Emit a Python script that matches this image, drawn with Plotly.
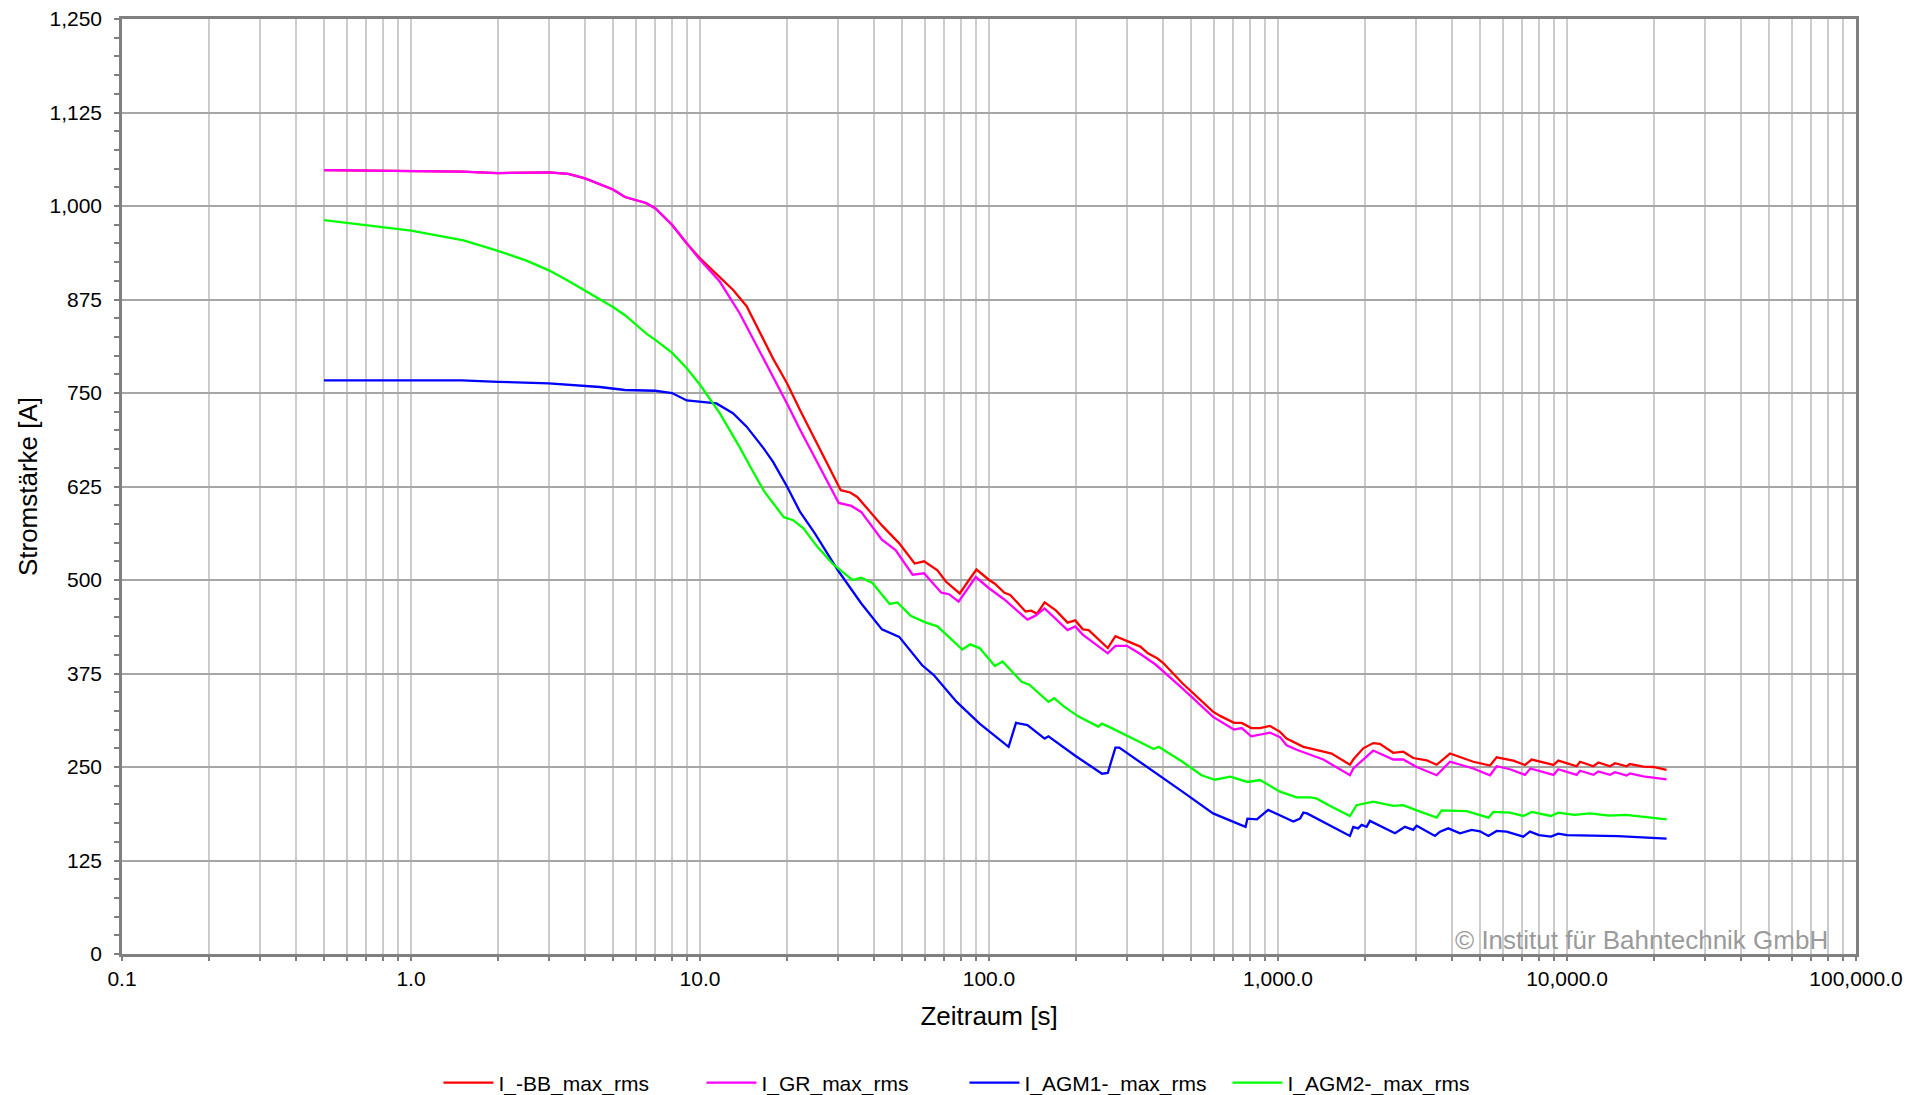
import plotly.graph_objects as go

# ---------------- data ----------------
t_bb = [0.5, 1.0, 1.5, 2.0, 3.0, 3.5, 4.0, 5.0, 5.5, 6.5, 7.0, 8.0, 9.0, 10.0, 11.7, 13.0, 14.5, 17.9, 20.0, 22.2,
        30.7, 33.1, 35.0, 42.6, 48.9, 55.3, 59.6, 66.3, 70.9, 79.2, 86.0, 90.5, 100.1, 104.8, 113.1, 118.4,
        133.8, 140.0, 146.6, 155.8, 170.7, 187.0, 198.8, 211.3, 221.2, 257.6, 273.8, 291.0, 314.1, 333.9,
        354.8, 382.9, 400.8, 466.9, 595.7, 633.1, 704.5, 748.6, 808.1,
        867, 938, 1016, 1071, 1160, 1224, 1290, 1435, 1533, 1774, 1822, 1972, 2136, 2250, 2505, 2713,
        2938, 3269, 3540, 3936, 4264, 4741, 5416, 5710, 6517, 7156, 7547, 8065, 8980, 9327, 10000,
        10800, 11090, 12340, 12830, 14090, 14660, 16090, 16520, 18370, 19890, 22110]
v_bb = [1048, 1047, 1046, 1044, 1045, 1043, 1037, 1022, 1012, 1004, 997, 975, 950, 930, 905, 888, 866, 796, 763, 727,
        620, 617, 611, 573, 549, 522, 525, 513, 498, 482, 502, 514, 500, 495, 483, 480,
        458, 459, 455, 470, 459, 443, 446, 434, 433, 409, 425, 421, 416, 411,
        402, 395, 389, 362, 324, 318, 309, 309, 302,
        302, 305, 297, 288, 281, 277, 275, 270.5, 268, 253, 260, 275, 282, 281, 269, 270.5,
        262, 259, 253, 268, 263, 257, 252, 263, 258.5, 252.7, 260, 257, 252.7, 258.5, 255,
        251, 257, 251, 256, 251, 255, 251, 254, 250.4, 250, 246]

t_gr = [0.5, 1.0, 1.5, 2.0, 3.0, 3.5, 4.0, 5.0, 5.5, 6.5, 7.0, 8.0, 9.0, 10.0, 11.7, 13.7, 20.0, 22.2,
        30.2, 33.4, 36.1, 42.6, 47.5, 54.4, 59.6, 68.4, 72.7, 78.5, 90.0, 100.0, 113.0, 135.8, 144.3,
        155.8, 187.0, 198.8, 211.0, 257.6, 273.8, 300.0, 334.0, 377.0, 467.0, 596.0, 704.0, 749.0, 808.0,
        867, 938, 1016, 1071, 1160, 1290, 1435, 1774, 1822, 2136, 2505, 2713, 3019, 3540, 3936, 4741,
        5416, 5710, 6347, 7156, 7470, 8980, 9327, 10800, 11090, 12340, 12830, 14090, 14660, 16090,
        16520, 18370, 22110]
v_gr = [1048, 1047, 1046, 1044, 1045, 1043, 1037, 1022, 1012, 1004, 997, 975, 950, 928, 899, 857, 736, 701,
        603, 599, 591, 554, 540, 507, 509, 483, 481, 471, 504, 489, 474, 447, 452,
        462, 433, 438, 427, 402, 412, 412, 401, 387, 355, 317, 300, 302, 291,
        293, 296, 290, 279, 273, 266, 260, 239, 248, 272, 260, 260, 250, 239, 257, 248,
        239, 251, 247, 239.4, 248, 239.4, 247, 239.4, 245, 239.5, 244, 239.5, 243, 238.5,
        241.5, 237.5, 233.5]

t_agm1 = [0.5, 1.0, 1.5, 2.0, 3.0, 4.5, 5.5, 7.0, 8.0, 9.0, 10.0, 11.4, 13.0, 14.5, 16.6, 17.9, 20.0, 22.2,
          25.0, 30.0, 36.1, 42.6, 48.9, 58.7, 64.4, 77.3, 92.8, 116.9, 124.0, 135.8, 155.8, 160.6,
          198.8, 246.1, 257.6, 273.8, 282.3, 365.8, 467.0, 596.0, 772.0, 784.0, 846.0,
          867, 925, 1130, 1192, 1224, 1260, 1774, 1822, 1893, 1948, 2026, 2080, 2540, 2749, 2938, 3019,
          3491, 3636, 3882, 4264, 4679, 5000, 5345, 5710, 6180, 7063, 7445, 8000, 8800, 9327, 10000,
          15000, 22110]
v_agm1 = [767, 767, 767, 765, 763, 758, 754, 753, 750, 740, 738, 736, 723, 705, 676, 658, 625, 591,
          562, 513, 469, 434, 424, 386, 373, 337, 308, 277, 309, 306, 288, 291,
          265, 241, 242, 276, 276, 246, 217, 188, 170, 181, 180,
          183.5, 192.6, 177, 181, 189, 188, 157.8, 170, 168, 172.6, 170, 178, 161.4, 170, 166, 171.4,
          157.8, 163.6, 168, 161.4, 166, 164, 157.8, 164.5, 163.6, 156.9, 163.6, 159, 157, 161, 159,
          157.5, 154.2]

t_agm2 = [0.5, 1.0, 1.52, 2.0, 2.51, 3.0, 3.46, 4.0, 5.0, 5.5, 6.54, 7.0, 8.0, 9.0, 10.0, 11.7, 13.7, 14.9,
          16.7, 19.5, 21.0, 22.8, 25.4, 28.7, 33.7, 36.1, 39.5, 45.3, 48.2, 53.6, 60.5, 66.3, 80.9, 86.0,
          92.8, 104.8, 111.4, 129.7, 137.9, 160.6, 168.1, 181.4, 204.9, 238.7, 246.1, 265.6, 300.0, 314.0,
          371.4, 386.4, 467.0, 543.6, 604.9, 683.4, 783.9,
          867, 1016, 1160, 1290, 1357, 1533, 1774, 1870, 2136, 2505, 2713, 3019, 3540, 3685, 4498, 5345,
          5560, 6347, 7063, 7547, 8800, 9327, 10600, 12000, 14000, 16000, 22110]
v_agm2 = [981, 967, 954, 940, 927, 914, 901, 887, 865, 854, 829, 821, 804, 783, 761, 723, 678, 652,
          618, 584, 580, 569, 545, 522, 500, 503, 496, 468, 470, 452, 443, 438, 407, 414,
          409, 385, 391, 364, 360, 337, 342, 331, 317, 304, 308, 302, 291, 288,
          274, 277, 257, 239, 233, 237, 230,
          232.6, 217, 209.5, 209.5, 208, 197, 184.5, 199, 203.7, 198, 199, 192, 182.3, 192, 191, 182.3,
          190, 189, 184.5, 190, 184.5, 189, 186, 188, 185, 186, 180]

series_names = ["I_-BB_max_rms", "I_GR_max_rms", "I_AGM1-_max_rms", "I_AGM2-_max_rms"]
series_colors = ["#FF0000", "#FF00FF", "#0000FF", "#00FF00"]

y_ticks = [0, 125, 250, 375, 500, 625, 750, 875, 1000, 1125, 1250]
x_decades = [0.1, 1, 10, 100, 1000, 10000, 100000]
x_labels = ["0.1", "1.0", "10.0", "100.0", "1,000.0", "10,000.0", "100,000.0"]

# ---------------- figure ----------------
FONT = "Liberation Sans, Arial, sans-serif"
fig = go.Figure()
for t, v, name, col in zip([t_bb, t_gr, t_agm1, t_agm2], [v_bb, v_gr, v_agm1, v_agm2],
                           series_names, series_colors):
    fig.add_trace(go.Scatter(x=t, y=v, mode="lines", name=name,
                             line=dict(color=col, width=2.3)))

# all log grid positions (1..9 x decade)
x_tickvals, x_ticktext = [], []
for i, d in enumerate(x_decades):
    x_tickvals.append(d)
    x_ticktext.append(x_labels[i])
    if i < len(x_decades) - 1:
        for m in range(2, 10):
            x_tickvals.append(d * m)
            x_ticktext.append("")

fig.update_layout(
    width=1906, height=1095,
    margin=dict(l=122, r=50, t=19, b=141),
    paper_bgcolor="white", plot_bgcolor="white",
    font=dict(family=FONT, size=21, color="black"),
    showlegend=True,
    legend=dict(orientation="h", xref="container", yref="container",
                x=0.506, xanchor="center", y=1 - 1083 / 1095, yanchor="middle",
                font=dict(size=21), itemwidth=50, entrywidth=198, entrywidthmode="pixels"),
    annotations=[dict(text="© Institut für Bahntechnik GmbH", xref="paper", yref="paper",
                      x=(1830 - 122) / 1734, y=(954 - 940) / 935, xanchor="right", yanchor="middle",
                      showarrow=False, font=dict(size=26, color="#9a9a9a", family=FONT))],
)

fig.update_xaxes(
    type="log", range=[-1, 5], automargin=False,
    tickmode="array", tickvals=x_tickvals, ticktext=x_ticktext,
    ticks="outside", ticklen=4, tickwidth=1.5, tickcolor="#808080",
    showgrid=True, gridcolor="#cccccc", gridwidth=1.5,
    showline=True, mirror=True, linecolor="#808080", linewidth=2.5,
    zeroline=False, tickfont=dict(size=21),
    title=dict(text="Zeitraum [s]", font=dict(size=26), standoff=18),
)
fig.update_yaxes(
    range=[0, 1250], automargin=False, tickmode="array", tickvals=y_ticks, tickformat=",d",
    ticks="outside", ticklen=5, tickwidth=1.5, tickcolor="#808080",
    minor=dict(dtick=25, ticks="outside", ticklen=5, tickwidth=1.5, tickcolor="#808080", showgrid=False),
    showgrid=True, gridcolor="#a6a6a6", gridwidth=1.5,
    showline=True, mirror=True, linecolor="#808080", linewidth=2.5,
    zeroline=False, tickfont=dict(size=21), ticklabelstandoff=8,
    title=dict(text="Stromstärke [A]", font=dict(size=26), standoff=5),
)

fig.write_html("out.html", config={"displayModeBar": False},
               post_script="document.body.style.margin='0';document.body.style.overflow='hidden';")
